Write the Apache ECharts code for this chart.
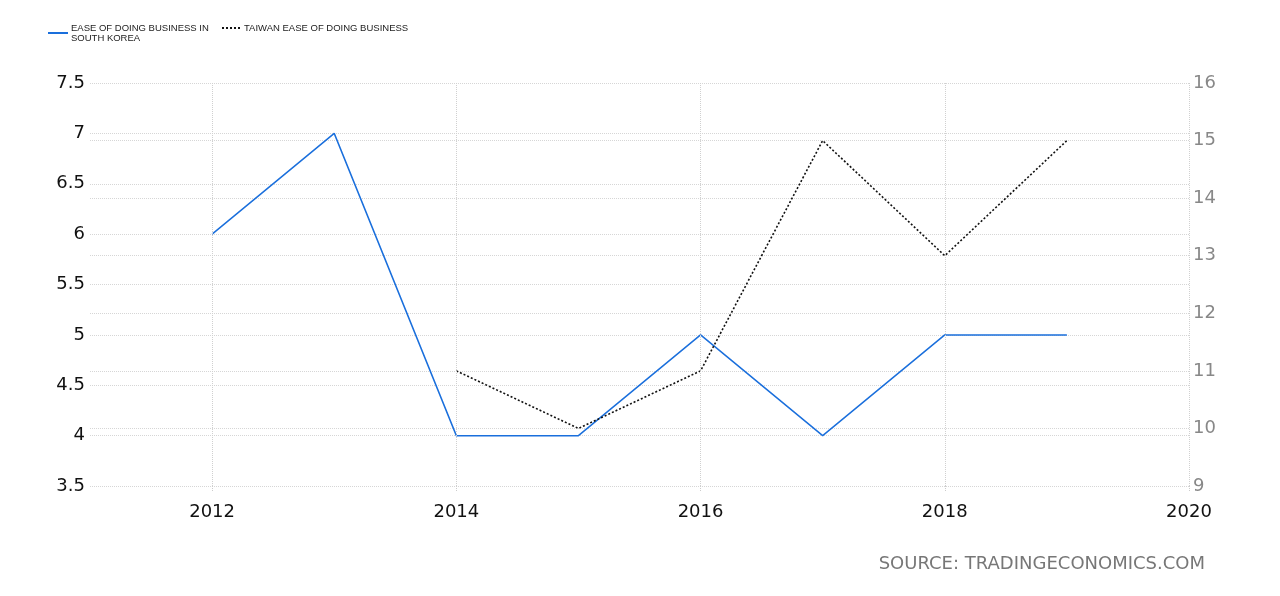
<!DOCTYPE html>
<html>
<head>
<meta charset="utf-8">
<script src="https://cdn.jsdelivr.net/npm/echarts@6/dist/echarts.min.js"></script>
<style>html,body{margin:0;padding:0;background:#fff;}#c{width:1280px;height:596px;}</style>
</head>
<body>
<div id="c"></div>
<script>
const years = [2012, 2013, 2014, 2015, 2016, 2017, 2018, 2019];
const koreaValues = [6, 7, 4, 4, 5, 4, 5, 5];
const taiwanValues = [null, null, 11, 10, 11, 15, 13, 15];
const xTickYears = [2012, 2014, 2016, 2018, 2020];
const koreaName = 'EASE OF DOING BUSINESS IN\nSOUTH KOREA';
const taiwanName = 'TAIWAN EASE OF DOING BUSINESS';

const chart = echarts.init(document.getElementById('c'));
const font = 'DejaVu Sans';
chart.setOption({
  animation: false,
  backgroundColor: '#fff',
  grid: { left: 90, right: 91, top: 83, bottom: 110 },
  legend: [
    { data: [koreaName], left: 42, top: 18, itemWidth: 20, itemHeight: 10, itemGap: 0,
      itemStyle: { opacity: 0 },
      textStyle: { fontFamily: 'Liberation Sans', fontSize: 9.5, lineHeight: 10, color: '#222', padding: [0,0,0,-2] } },
    { data: [taiwanName], left: 216, top: 18, itemWidth: 18, itemHeight: 10,
      itemStyle: { opacity: 0 },
      textStyle: { fontFamily: 'Liberation Sans', fontSize: 9.5, lineHeight: 10, color: '#222', padding: [0,0,0,-1] } }
  ],
  xAxis: {
    type: 'value', min: 2011, max: 2020, interval: 1,
    axisLine: { show: false },
    axisTick: { show: true, customValues: xTickYears, length: 6, lineStyle: { color: '#ccc', type: 'dotted' } },
    axisLabel: { customValues: xTickYears, formatter: v => (v % 2 === 0 ? String(v) : ''), color: '#111', fontFamily: font, fontSize: 18, margin: 17 },
    splitLine: { show: false }
  },
  yAxis: [
    { type: 'value', min: 3.5, max: 7.5, interval: 0.5, position: 'left',
      axisLine: { show: false }, axisTick: { show: false },
      axisLabel: { color: '#111', fontFamily: font, fontSize: 18, margin: 5 },
      splitLine: { lineStyle: { color: '#d6d6d6', type: 'dotted' } } },
    { type: 'value', min: 9, max: 16, interval: 1, position: 'right',
      axisLine: { show: false }, axisTick: { show: false },
      axisLabel: { color: '#888', fontFamily: font, fontSize: 18, margin: 4 },
      splitLine: { lineStyle: { color: '#d6d6d6', type: 'dotted' } } }
  ],
  series: [
    { name: koreaName, type: 'line', yAxisIndex: 0, symbol: 'none',
      data: years.map((y, i) => [y, koreaValues[i]]),
      lineStyle: { color: '#1a6fdc', width: 1.5 }, itemStyle: { color: '#1a6fdc' },
      markLine: { silent: true, symbol: 'none', label: { show: false },
        lineStyle: { color: '#d0d0d0', type: 'dotted', width: 1 },
        data: xTickYears.map(y => ({ xAxis: y })) } },
    { name: taiwanName, type: 'line', yAxisIndex: 1, symbol: 'none',
      data: years.map((y, i) => [y, taiwanValues[i]]),
      lineStyle: { color: '#111', width: 1.6, type: [2, 2] }, itemStyle: { color: '#111' } }
  ],
  graphic: [
    { type: 'text', right: 75, top: 555,
      style: { text: 'SOURCE: TRADINGECONOMICS.COM', fill: '#777', font: '18px "DejaVu Sans"' } }
  ]
});
</script>
</body>
</html>
